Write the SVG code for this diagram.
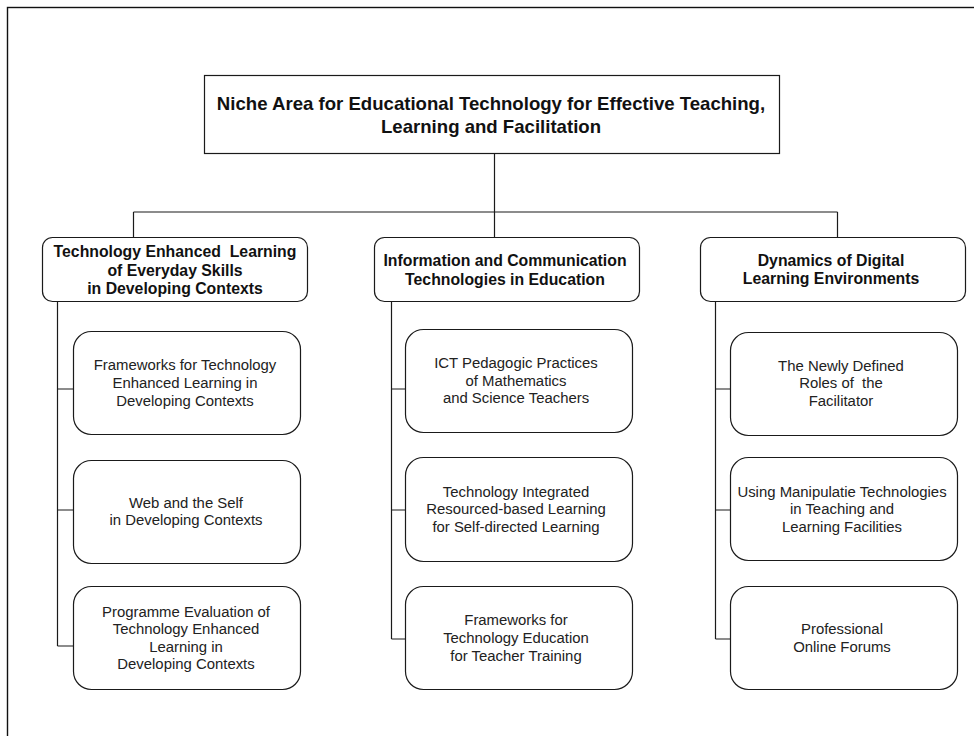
<svg xmlns="http://www.w3.org/2000/svg" width="974" height="736" viewBox="0 0 974 736">
<style>
.frame{fill:none;stroke:#111;stroke-width:1.4}
.box{fill:#fff;stroke:#1a1a1a;stroke-width:1.2}
.conn{fill:none;stroke:#1a1a1a;stroke-width:1.2}
text{white-space:pre}
.t0{font-family:"Liberation Sans",Arial,sans-serif;font-weight:bold;font-size:18.6px;fill:#111;text-anchor:middle}
.t1{font-family:"Liberation Sans",Arial,sans-serif;font-weight:bold;font-size:15.8px;fill:#111;text-anchor:middle}
.t2{font-family:"Liberation Sans",Arial,sans-serif;font-size:14.9px;fill:#222;text-anchor:middle}
</style>
<rect width="974" height="736" fill="#fff"/>
<rect class="frame" x="7.5" y="7.5" width="1000" height="1000"/>
<g id="connectors">
<path class="conn" d="M494.5 154V212M133.5 212H837.5M133.5 212V237M494.5 212V237M837.5 212V237"/>
<path class="conn" d="M57.5 302V646M57.5 389H73M57.5 510H73M57.5 646H73"/>
<path class="conn" d="M391.5 302V639M391.5 389H405M391.5 510H405M391.5 639H405"/>
<path class="conn" d="M715.5 302V639M715.5 389H730M715.5 510H730M715.5 639H730"/>
</g>
<g id="root">
<rect class="box" x="204.5" y="75.5" width="575" height="78"/>
<text class="t0" x="491" y="110">Niche Area for Educational Technology for Effective Teaching,</text>
<text class="t0" x="491" y="133">Learning and Facilitation</text>
</g>
<g id="cat1">
<rect class="box" x="42.5" y="237.5" width="265" height="64" rx="10"/>
<text class="t1" x="175" y="257">Technology Enhanced  Learning</text>
<text class="t1" x="175" y="276">of Everyday Skills</text>
<text class="t1" x="175" y="294">in Developing Contexts</text>
</g>
<g id="cat2">
<rect class="box" x="374.5" y="237.5" width="265" height="64" rx="10"/>
<text class="t1" x="505" y="266">Information and Communication</text>
<text class="t1" x="505" y="285">Technologies in Education</text>
</g>
<g id="cat3">
<rect class="box" x="700.5" y="237.5" width="265" height="64" rx="10"/>
<text class="t1" x="831" y="266">Dynamics of Digital</text>
<text class="t1" x="831" y="284">Learning Environments</text>
</g>
<g id="c1n1">
<rect class="box" x="73.5" y="331.5" width="227" height="103" rx="18"/>
<text class="t2" x="185" y="370">Frameworks for Technology</text>
<text class="t2" x="185" y="388">Enhanced Learning in</text>
<text class="t2" x="185" y="406">Developing Contexts</text>
</g>
<g id="c1n2">
<rect class="box" x="73.5" y="460.5" width="227" height="103" rx="18"/>
<text class="t2" x="186" y="508">Web and the Self</text>
<text class="t2" x="186" y="525">in Developing Contexts</text>
</g>
<g id="c1n3">
<rect class="box" x="73.5" y="586.5" width="227" height="103" rx="18"/>
<text class="t2" x="186" y="617">Programme Evaluation of</text>
<text class="t2" x="186" y="634">Technology Enhanced</text>
<text class="t2" x="186" y="652">Learning in</text>
<text class="t2" x="186" y="669">Developing Contexts</text>
</g>
<g id="c2n1">
<rect class="box" x="405.5" y="329.5" width="227" height="103" rx="18"/>
<text class="t2" x="516" y="368">ICT Pedagogic Practices</text>
<text class="t2" x="516" y="386">of Mathematics</text>
<text class="t2" x="516" y="403">and Science Teachers</text>
</g>
<g id="c2n2">
<rect class="box" x="405.5" y="457.5" width="227" height="104" rx="18"/>
<text class="t2" x="516" y="497">Technology Integrated</text>
<text class="t2" x="516" y="514">Resourced-based Learning</text>
<text class="t2" x="516" y="532">for Self-directed Learning</text>
</g>
<g id="c2n3">
<rect class="box" x="405.5" y="586.5" width="227" height="103" rx="18"/>
<text class="t2" x="516" y="625">Frameworks for</text>
<text class="t2" x="516" y="643">Technology Education</text>
<text class="t2" x="516" y="661">for Teacher Training</text>
</g>
<g id="c3n1">
<rect class="box" x="730.5" y="332.5" width="227" height="103" rx="18"/>
<text class="t2" x="841" y="371">The Newly Defined</text>
<text class="t2" x="841" y="388">Roles of  the</text>
<text class="t2" x="841" y="406">Facilitator</text>
</g>
<g id="c3n2">
<rect class="box" x="730.5" y="457.5" width="227" height="103" rx="18"/>
<text class="t2" x="842" y="497">Using Manipulatie Technologies</text>
<text class="t2" x="842" y="514">in Teaching and</text>
<text class="t2" x="842" y="532">Learning Facilities</text>
</g>
<g id="c3n3">
<rect class="box" x="730.5" y="586.5" width="227" height="103" rx="18"/>
<text class="t2" x="842" y="634">Professional</text>
<text class="t2" x="842" y="652">Online Forums</text>
</g>
</svg>
